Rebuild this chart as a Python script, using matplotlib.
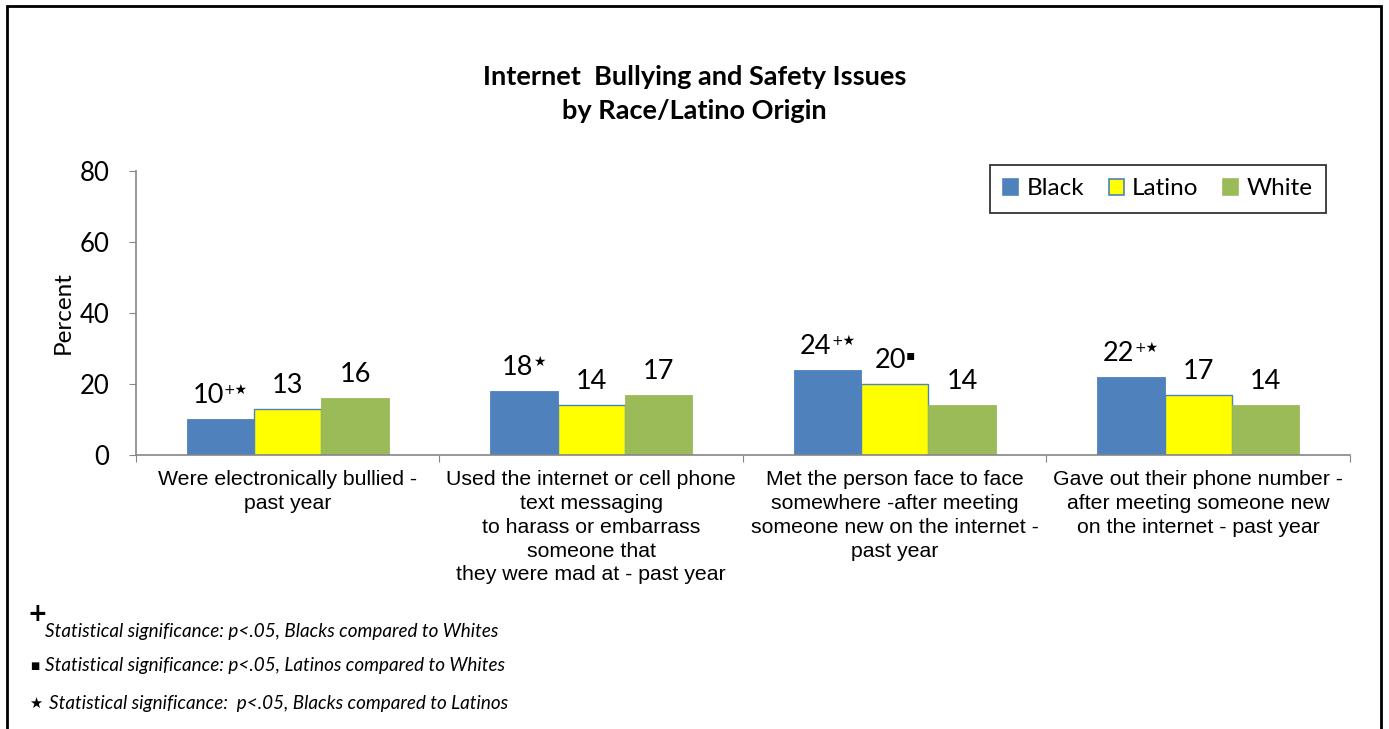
import numpy as np
import matplotlib.pyplot as plt
from matplotlib.patches import Rectangle, Patch
from matplotlib.offsetbox import TextArea, HPacker, AnnotationBbox

CALIBRI = ['Lato', 'DejaVu Sans']
ARIAL = ['Liberation Sans', 'DejaVu Sans']

categories = [
    'Were electronically bullied -\npast year',
    'Used the internet or cell phone\ntext messaging\nto harass or embarrass\nsomeone that\nthey were mad at - past year',
    'Met the person face to face\nsomewhere -after meeting\nsomeone new on the internet -\npast year',
    'Gave out their phone number -\nafter meeting someone new\non the internet - past year',
]
groups = ['Black', 'Latino', 'White']
black = [10, 18, 24, 22]
latino = [13, 14, 20, 17]
white = [16, 17, 14, 14]
# significance marks shown after each value
black_marks = ['+\u2605', '\u2605', '+\u2605', '+\u2605']
latino_marks = ['', '', '\u25aa', '']
white_marks = ['', '', '', '']

colors = ['#4F81BD', '#FFFF00', '#9BBB59']
edges = ['#4F81BD', '#4F81BD', '#9BBB59']

fig = plt.figure(figsize=(13.89, 7.29), dpi=100)
ax = fig.add_axes([0.0979, 0.3759, 0.874, 0.3896])

x = np.arange(len(categories))
w = 0.222
series = [(black, black_marks), (latino, latino_marks), (white, white_marks)]
for i, (vals, marks) in enumerate(series):
    xs = x + (i - 1) * w
    ax.bar(xs, vals, width=w, color=colors[i], edgecolor=edges[i],
           linewidth=1.0 if i == 1 else 0.6, label=groups[i], zorder=2)
    for xi, v, m in zip(xs, vals, marks):
        parts = [TextArea(str(v), textprops=dict(fontsize=19.5, family=CALIBRI))]
        if m:
            parts.append(TextArea(m, textprops=dict(fontsize=10, family=['DejaVu Sans'])))
        box = HPacker(children=parts, align='top', pad=0, sep=0)
        ab = AnnotationBbox(box, (xi, v), xybox=(0, 8), xycoords='data',
                            boxcoords='offset points', box_alignment=(0.5, 0),
                            frameon=False)
        ax.add_artist(ab)

ax.set_xlim(-0.5, len(categories) - 0.5)
ax.set_ylim(0, 80)
ax.set_yticks([0, 20, 40, 60, 80])
ax.tick_params(axis='y', labelsize=18.5, length=5, color='#868686', pad=14)
for lab in ax.get_yticklabels():
    lab.set_family(CALIBRI)

ax.set_xticks(np.arange(len(categories) + 1) - 0.5)
ax.set_xticklabels([])
ax.tick_params(axis='x', which='major', length=5, color='#868686')
ax.set_xticks(x, minor=True)
ax.set_xticklabels(categories, minor=True, fontsize=15.3, family=ARIAL,
                   linespacing=1.32, va='top')
ax.tick_params(axis='x', which='minor', length=0, pad=11)

for s in ['top', 'right']:
    ax.spines[s].set_visible(False)
for s in ['left', 'bottom']:
    ax.spines[s].set_color('#868686')
    ax.spines[s].set_linewidth(1.2)

ax.set_ylabel('Percent', fontsize=17.5, family=CALIBRI, labelpad=4)

handles = [Patch(facecolor=colors[i], edgecolor=edges[i], linewidth=1.2) for i in range(3)]
leg = ax.legend(handles, groups, loc='upper right', bbox_to_anchor=(0.9802, 1.021),
                ncol=3, frameon=True, fancybox=False, edgecolor='black',
                prop=dict(family=CALIBRI, size=17.5), handlelength=0.62,
                handleheight=0.62, handletextpad=0.35, columnspacing=1.0,
                borderpad=0.55, borderaxespad=0)
leg.get_frame().set_linewidth(1.3)

fig.text(0.5, 1 - 94 / 729, 'Internet  Bullying and Safety Issues\nby Race/Latino Origin',
         ha='center', va='center', fontsize=19.5, fontweight='bold',
         family=CALIBRI, linespacing=1.5)

# footnotes
fig.text(27 / 1389, 1 - 614 / 729, '+', fontsize=17, fontweight='bold',
         family=['DejaVu Sans'], va='center')
fig.text(45 / 1389, 1 - 632 / 729,
         'Statistical significance: p<.05, Blacks compared to Whites',
         fontsize=13.6, style='italic', family=CALIBRI, va='center')
fig.text(30 / 1389, 1 - 666 / 729, '\u25a0', fontsize=7, family=['DejaVu Sans'], va='center')
fig.text(45 / 1389, 1 - 666 / 729,
         'Statistical significance: p<.05, Latinos compared to Whites',
         fontsize=13.6, style='italic', family=CALIBRI, va='center')
fig.text(29 / 1389, 1 - 703 / 729, '\u2605', fontsize=10.5, family=['DejaVu Sans'], va='center')
fig.text(49 / 1389, 1 - 703 / 729,
         'Statistical significance:  p<.05, Blacks compared to Latinos',
         fontsize=13.6, style='italic', family=CALIBRI, va='center')

# outer frame
fig.add_artist(Rectangle((7 / 1389, -0.05), (1381 - 7) / 1389, 1.05 - 6 / 729,
                         transform=fig.transFigure, fill=False,
                         edgecolor='black', linewidth=2))

fig.savefig('out.png', dpi=100)
